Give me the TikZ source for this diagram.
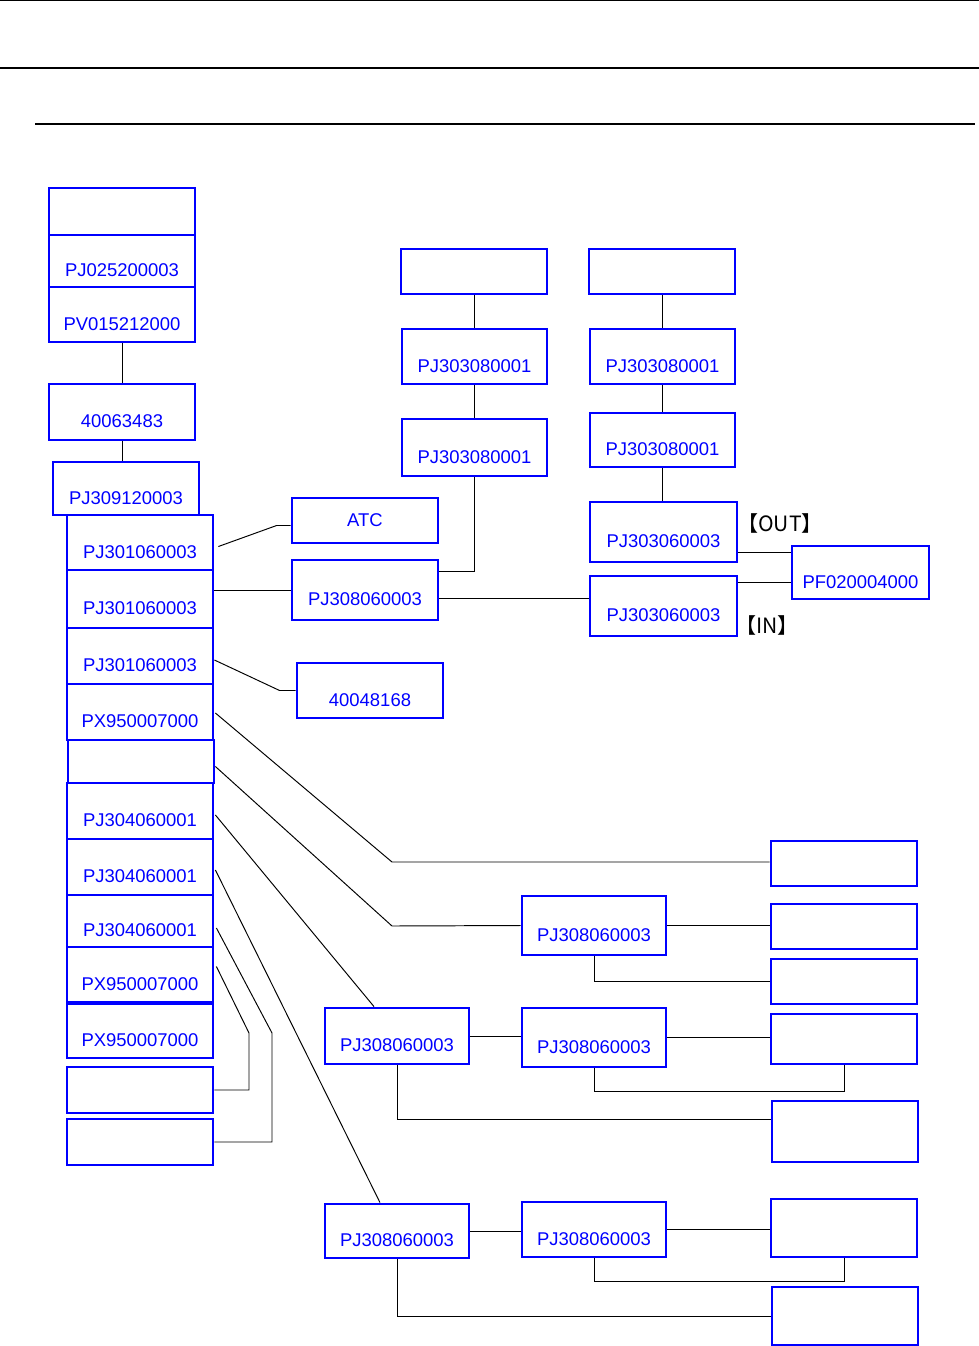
\documentclass[tikz,border=0pt]{standalone}
\usepackage{fontspec}
\setmainfont{Liberation Sans}
\newfontfamily\cjk{Noto Sans CJK JP}
\usetikzlibrary{calc}
\definecolor{partblue}{RGB}{0, 0, 255}
% box from corner (x1,y1) to corner (x2,y2), pixel units
\newcommand{\partbox}[6]{%
	\node[pbox, minimum width={(#4-#2)*0.02cm}, minimum height={(#5-#3)*0.02cm}] (#1) at ({(#2+#4)/2}, {(#3+#5)/2}) {#6};}

\begin{document}
\begin{tikzpicture}[
	x=0.02cm, y=-0.02cm,
	font=\fontsize{10.5}{12}\selectfont,
	% Styles for the part boxes and the links
	boxline/.style={draw=partblue, line width=1.6pt, text=partblue, inner sep=0pt},
	pbox/.style={boxline, text height=18pt, text depth=0pt},
	link/.style={black, line width=0.55pt},
	rule/.style={black, line width=1.2pt},
	tag/.style={font=\cjk\fontsize{12}{14}\selectfont, text=black}
	]
	\useasboundingbox (0,0) rectangle (979,1346);
	
	% ==========================================
	% 1. HEADER RULES
	% ==========================================
	\draw[link] (0,0.5) -- (979,0.5);
	\draw[rule] (0,68) -- (979,68);
	\draw[rule] (35,124) -- (975,124);
	
	% ==========================================
	% 2. LEFT COLUMN
	% ==========================================
	\partbox{A0}{49}{188}{195}{235}{}
	\partbox{A1}{49}{235}{195}{287}{PJ025200003}
	\partbox{A2}{49}{287}{195}{342}{PV015212000}
	\partbox{B}{49}{384}{195}{440}{40063483}
	\partbox{C}{53}{462}{199}{515}{PJ309120003}
	\partbox{D1}{67}{515}{213}{570}{PJ301060003}
	\partbox{D2}{67}{570}{213}{628}{PJ301060003}
	\partbox{D3}{67}{628}{213}{684}{PJ301060003}
	\partbox{D4}{67}{684}{213}{740}{PX950007000}
	\partbox{D5}{68}{740}{214}{783}{}
	\partbox{D6}{67}{783}{213}{839}{PJ304060001}
	\partbox{D7}{67}{839}{213}{895}{PJ304060001}
	\partbox{D8}{67}{895}{213}{947}{PJ304060001}
	\partbox{D9}{67}{947}{213}{1002}{PX950007000}
	\partbox{D10}{67}{1004}{213}{1058}{PX950007000}
	\partbox{D11}{67}{1067}{213}{1113}{}
	\partbox{D12}{67}{1119}{213}{1165}{}
	
	\draw[link] (A2.south) -- (B.north);
	\draw[link] (B.south) -- (B.south |- C.north);
	
	% ==========================================
	% 3. UPPER BRANCHES
	% ==========================================
	\node[boxline, minimum width=146*0.02cm, minimum height=45*0.02cm] (ATC) at (365,520.5) {ATC};
	\partbox{H}{292}{560}{438}{620}{PJ308060003}
	\partbox{I}{297}{663}{443}{718}{40048168}
	
	\partbox{E1}{401}{249}{547}{294}{}
	\partbox{E2}{402}{329}{547}{384}{PJ303080001}
	\partbox{E3}{402}{419}{547}{476}{PJ303080001}
	
	\partbox{F1}{589}{249}{735}{294}{}
	\partbox{F2}{590}{329}{735}{384}{PJ303080001}
	\partbox{F3}{590}{413}{735}{467}{PJ303080001}
	\partbox{F4}{590}{502}{737}{562}{PJ303060003}
	\partbox{F5}{590}{576}{737}{636}{PJ303060003}
	\partbox{G}{792}{546}{929}{599}{PF020004000}
	
	\node[tag] (outtag) at (780,523) {【OUT】};
	\node[tag] (intag) at (767,625) {【IN】};
	
	\draw[link] ($(D1.east)+(4,4)$) -- ($(ATC.west)+(-14,5)$) -- ($(ATC.west)+(0,5)$);
	\draw[link] (H.west) -- (H.west -| D2.east);
	\draw[link] ($(D3.east)+(0,4)$) -- ($(I.west)+(-16,0)$) -- (I.west);
	
	\draw[link] (E1.south) -- (E1.south |- E2.north);
	\draw[link] (E2.south) -- (E3.north);
	\draw[link] (F1.south) -- (F1.south |- F2.north);
	\draw[link] (F2.south) -- (F3.north);
	\draw[link] (F3.south) -- (F3.south |- F4.north);
	
	\draw[link] ($(H.east)+(0,-19)$) -| (E3.south);
	\coordinate (hout) at ($(H.east)+(0,8)$);
	\draw[link] (hout) -- (hout -| F5.west);
	\coordinate (gtop) at ($(G.west)+(0,-20)$);
	\coordinate (gbot) at ($(G.west)+(0,10)$);
	\draw[link] (gtop) -- (gtop -| F4.east);
	\draw[link] (gbot) -- (gbot -| F5.east);
	
	% ==========================================
	% 4. LOWER BRANCHES
	% ==========================================
	\partbox{R1}{771}{841}{917}{886}{}
	\partbox{J1}{522}{896}{666}{955}{PJ308060003}
	\partbox{R2}{771}{904}{917}{949}{}
	\partbox{R3}{771}{959}{917}{1004}{}
	\partbox{K1}{325}{1008}{469}{1064}{PJ308060003}
	\partbox{K2}{522}{1008}{666}{1067}{PJ308060003}
	\partbox{R4}{771}{1014}{917}{1064}{}
	\partbox{R5}{772}{1101}{918}{1162}{}
	\partbox{L1}{325}{1204}{469}{1258}{PJ308060003}
	\partbox{L2}{522}{1202}{666}{1257}{PJ308060003}
	\partbox{R6}{771}{1199}{917}{1257}{}
	\partbox{R7}{772}{1287}{918}{1345}{}
	
	\coordinate (bendA) at (392,862);
	\coordinate (bendB) at (392,926);
	\coordinate (bendC) at (272,1033);
	\coordinate (bendD) at (249,1033);
	
	\draw[link] ($(D4.east)+(1,1)$) -- (bendA) -- (bendA -| R1.west);
	\draw[link] ($(D5.east)+(0,5)$) -- (bendB) -- (J1.west);
	\draw[link] (J1.east) -- (J1.east -| R2.west);
	\draw[link] (J1.south) |- (R3.west);
	
	\draw[link] ($(D6.east)+(1,4)$) -- ($(K1.north)+(-23,0)$);
	\draw[link] (K1.east) -- (K1.east -| K2.west);
	\draw[link] (K2.east) -- (K2.east -| R4.west);
	\draw[link] (K2.south) -- ++(0,23) -| (R4.south);
	\draw[link] (K1.south) |- ($(R5.west)+(0,-12)$);
	
	\draw[link] ($(D7.east)+(1,3)$) -- ($(L1.north)+(-17,0)$);
	\draw[link] (L1.east) -- (L1.east -| L2.west);
	\draw[link] (L2.east) -- (L2.east -| R6.west);
	\draw[link] (L2.south) -- ++(0,23) -| (R6.south);
	\draw[link] (L1.south) |- (R7.west);
	
	\draw[link] ($(D8.east)+(2,7)$) -- (bendC) |- (D12.east);
	\draw[link] ($(D9.east)+(2,-8)$) -- (bendD) |- (D11.east);
\end{tikzpicture}
\end{document}
